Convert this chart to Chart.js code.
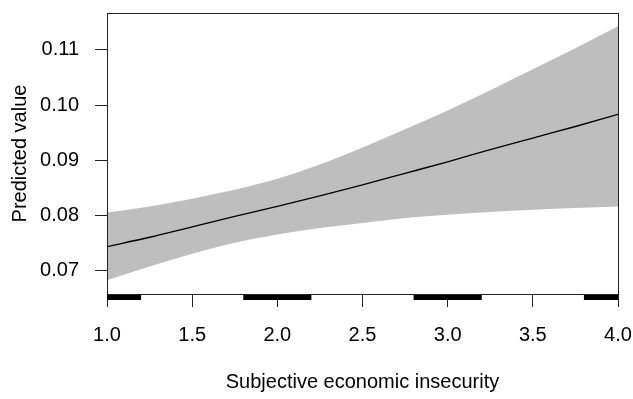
<!DOCTYPE html>
<html>
<head>
<meta charset="utf-8">
<script src="https://cdn.jsdelivr.net/npm/chart.js@4.4.1/dist/chart.umd.min.js"></script>
<style>
html,body{margin:0;padding:0;background:#fff;}
#wrap{width:633px;height:399px;}
</style>
</head>
<body>
<div id="wrap"><canvas id="c" width="633" height="399"></canvas></div>
<script>
// Data
const xValues   = [1.0, 1.25, 1.5, 1.75, 2.0, 2.25, 2.5, 2.75, 3.0, 3.25, 3.5, 3.75, 4.0];
const predicted = [0.0743, 0.0760, 0.0779, 0.0798, 0.0816, 0.0835, 0.0855, 0.0876, 0.0897, 0.0919, 0.0940, 0.0961, 0.0983];
const upperCI   = [0.0805, 0.0816, 0.0830, 0.0846, 0.0866, 0.0892, 0.0923, 0.0956, 0.0990, 0.1027, 0.1065, 0.1103, 0.1143];
const lowerCI   = [0.0682, 0.0707, 0.0730, 0.0750, 0.0765, 0.0777, 0.0786, 0.0795, 0.0801, 0.0806, 0.0810, 0.0813, 0.0816];
const rugFrom   = [1.0, 1.8, 2.8, 3.8];
const rugTo     = [1.2, 2.2, 3.2, 4.0];
const yTicks    = [0.07, 0.08, 0.09, 0.10, 0.11];
const xTicks    = [1.0, 1.5, 2.0, 2.5, 3.0, 3.5, 4.0];
const xTitle    = 'Subjective economic insecurity';
const yTitle    = 'Predicted value';

const pts = arr => xValues.map((x, i) => ({x: x, y: arr[i]}));

Chart.defaults.font.family = '"Liberation Sans", Arial, sans-serif';
Chart.defaults.font.size = 20;
Chart.defaults.color = '#000';

const noPad = s => { s.paddingTop = 0; s.paddingBottom = 0; s.paddingLeft = 0; s.paddingRight = 0; };

const boxAndRug = {
  id: 'boxAndRug',
  afterDraw(chart) {
    const ctx = chart.ctx, a = chart.chartArea, xs = chart.scales.x;
    ctx.save();
    ctx.fillStyle = '#000';
    rugFrom.forEach((f, i) => {
      const x1 = xs.getPixelForValue(f), x2 = xs.getPixelForValue(rugTo[i]);
      ctx.fillRect(x1, a.bottom, x2 - x1, 6);
    });
    ctx.strokeStyle = '#222';
    ctx.lineWidth = 1;
    ctx.strokeRect(Math.round(a.left) + 0.5, Math.round(a.top) + 0.5,
                   Math.round(a.right - a.left), Math.round(a.bottom - a.top));
    ctx.restore();
  }
};

new Chart(document.getElementById('c'), {
  type: 'line',
  data: {
    datasets: [
      {label: 'Predicted', data: pts(predicted), borderColor: '#000', borderWidth: 1.3,
       pointRadius: 0, fill: false, cubicInterpolationMode: 'monotone'},
      {label: 'Upper', data: pts(upperCI), borderWidth: 0, borderColor: 'rgba(0,0,0,0)',
       backgroundColor: 'rgb(190,190,190)', pointRadius: 0, fill: '+1', cubicInterpolationMode: 'monotone'},
      {label: 'Lower', data: pts(lowerCI), borderWidth: 0, borderColor: 'rgba(0,0,0,0)',
       pointRadius: 0, fill: false, cubicInterpolationMode: 'monotone'}
    ]
  },
  options: {
    responsive: false,
    animation: false,
    events: [],
    layout: {padding: {top: 13, right: 15, left: 0, bottom: 0}},
    plugins: {legend: {display: false}, tooltip: {enabled: false}},
    scales: {
      x: {
        type: 'linear', min: 1, max: 4,
        afterBuildTicks: s => { s.ticks = xTicks.map(v => ({value: v})); },
        afterFit: s => { s.height = 105; noPad(s); },
        grid: {drawOnChartArea: false, drawTicks: true, tickLength: 13, color: '#222'},
        border: {display: false},
        ticks: {padding: 16, maxRotation: 0, autoSkip: false, callback: v => Number(v).toFixed(1)},
        title: {display: true, text: xTitle, padding: {top: 0, bottom: 5}}
      },
      y: {
        type: 'linear', min: 0.0657, max: 0.1167,
        afterBuildTicks: s => { s.ticks = yTicks.map(v => ({value: v})); },
        afterFit: s => { s.width = 107; noPad(s); },
        grid: {drawOnChartArea: false, drawTicks: true, tickLength: 12, color: '#222'},
        border: {display: false},
        ticks: {padding: 16, autoSkip: false, callback: v => Number(v).toFixed(2)},
        title: {display: true, text: yTitle, padding: {top: 8, bottom: 0}}
      }
    }
  },
  plugins: [boxAndRug]
});
</script>
</body>
</html>
